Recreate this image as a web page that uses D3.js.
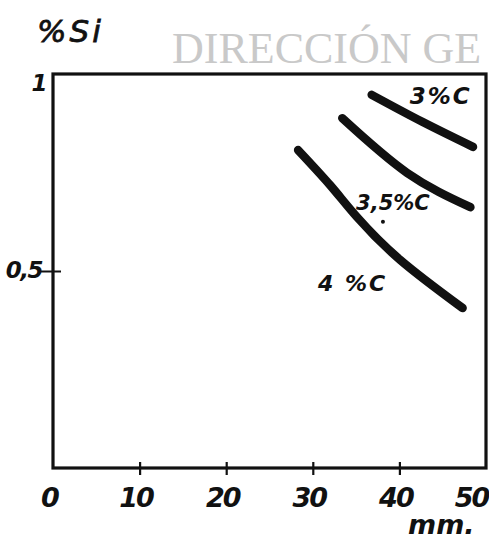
<!DOCTYPE html>
<html><head><meta charset="utf-8">
<script src="https://cdn.jsdelivr.net/npm/d3@7"></script>
<style>html,body{margin:0;padding:0;background:#fff;}svg{display:block;}</style>
</head><body>
<svg id="c" width="489" height="540"></svg>
<script>
const xTicks = [0, 10, 20, 30, 40, 50];
const yTicks = [0.5, 1];
const yTickLabels = ["0,5", "1"];
const seriesNames = ["3%C", "3,5%C", "4 %C"];
const series3 = [[36.8, 0.947], [42.7, 0.878], [48.5, 0.815]];
const series35 = [[33.4, 0.888], [40.9, 0.749], [48.2, 0.662]];
const series4 = [[28.3, 0.807], [32.0, 0.718], [35.1, 0.637], [40.1, 0.528], [47.3, 0.406]];
const labelPos = [[41.2, 0.925], [35.0, 0.655], [30.6, 0.448]];

const svg = d3.select("#c");
const x = d3.scaleLinear().domain([0, 50]).range([53, 486]);
const y = d3.scaleLinear().domain([0, 1]).range([468, 74]);
const hand = "'DejaVu Sans', sans-serif";

// watermark
svg.append("text").attr("x", 172).attr("y", 63)
  .attr("font-family", "'Liberation Serif', 'Times New Roman', serif")
  .attr("font-size", 44).attr("fill", "#c9c9c9").text("DIRECCIÓN GE");

// axis title
svg.append("text").attr("x", 37).attr("y", 42)
  .attr("font-family", hand).attr("font-style", "italic")
  .attr("font-size", 31).attr("letter-spacing", 3).attr("fill", "#111")
  .attr("stroke", "#111").attr("stroke-width", 0.8).text("%Si");

// frame
svg.append("rect").attr("x", x(0)).attr("y", y(1))
  .attr("width", x(50) - x(0)).attr("height", y(0) - y(1))
  .attr("fill", "none").attr("stroke", "#111").attr("stroke-width", 3.2);

// x axis ticks + labels
const xa = svg.append("g").attr("transform", `translate(0,${y(0)})`)
  .call(d3.axisBottom(x).tickValues(xTicks).tickSize(0).tickPadding(0).tickFormat(d3.format("d")));
xa.select(".domain").remove();
xa.selectAll(".tick text").attr("y", 39).attr("dy", 0).attr("dx", d => d === 50 ? -15 : -4)
  .attr("font-family", hand).attr("font-style", "italic").attr("font-weight", "bold")
  .attr("font-size", 27).attr("letter-spacing", -2).attr("fill", "#111");
xa.selectAll(".tick").filter(d => d > 0 && d < 50).append("line")
  .attr("y1", -6).attr("y2", 7).attr("stroke", "#111").attr("stroke-width", 2.2);

// y axis ticks + labels
const ya = svg.append("g").attr("transform", `translate(${x(0)},0)`)
  .call(d3.axisLeft(y).tickValues(yTicks).tickSize(0).tickPadding(0)
    .tickFormat((d, i) => yTickLabels[i]));
ya.select(".domain").remove();
ya.selectAll(".tick text").attr("x", d => d === 1 ? -7 : -11).attr("dy", d => d === 1 ? "0.7em" : "0.3em")
  .attr("font-family", hand).attr("font-style", "italic").attr("font-weight", "bold")
  .attr("font-size", 23).attr("letter-spacing", -1.5).attr("fill", "#111");
ya.selectAll(".tick").filter(d => d < 1).append("line")
  .attr("x1", -12).attr("x2", 8).attr("stroke", "#111").attr("stroke-width", 2);

// x unit
svg.append("text").attr("x", 408).attr("y", 534)
  .attr("font-family", hand).attr("font-style", "italic").attr("font-weight", "bold")
  .attr("font-size", 27).attr("fill", "#111").text("mm.");

// curves
const line = d3.line().x(d => x(d[0])).y(d => y(d[1])).curve(d3.curveNatural);
[series3, series35, series4].forEach(s => {
  svg.append("path").attr("d", line(s)).attr("fill", "none")
    .attr("stroke", "#111").attr("stroke-width", 8.5).attr("stroke-linecap", "round");
});

// curve labels
const spacing = [2, 0, 2];
const sizes = [23, 21, 22];
seriesNames.forEach((n, i) => {
  svg.append("text").attr("x", x(labelPos[i][0])).attr("y", y(labelPos[i][1]))
    .attr("font-family", hand).attr("font-weight", "bold").attr("font-style", "italic")
    .attr("font-size", sizes[i]).attr("letter-spacing", spacing[i]).attr("fill", "#111").text(n);
});
svg.append("circle").attr("cx", x(38.1)).attr("cy", y(0.625)).attr("r", 2).attr("fill", "#111");
</script>
</body></html>
